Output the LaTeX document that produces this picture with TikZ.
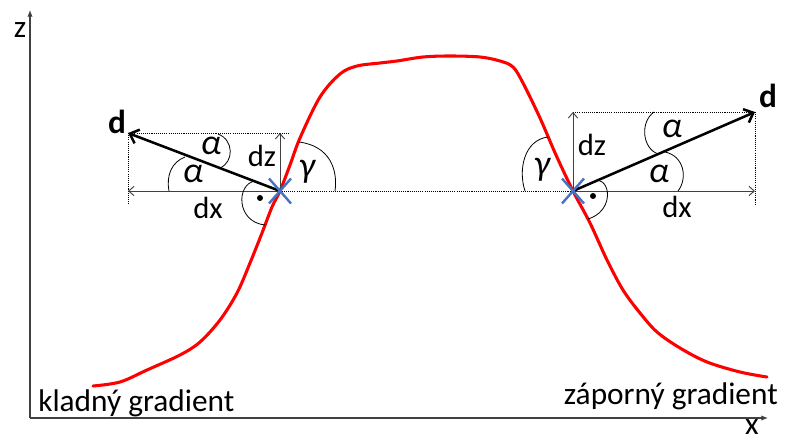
\documentclass[tikz,border=0pt]{standalone}
\usepackage{fontspec}
\setmainfont{Carlito}
\usetikzlibrary{arrows.meta}
\definecolor{xblue}{HTML}{4472C4}
\begin{document}
\begin{tikzpicture}[x=0.75pt,y=-0.75pt,
  axis/.style={draw=black!75, line width=0.8pt, -{Latex[length=5pt,width=4pt]}},
  vec/.style={draw=black, line width=1.9pt, -{Straight Barb[length=6pt,width=11pt]}},
  comp/.style={draw=black!75, line width=0.7pt, -{Straight Barb[length=4pt,width=7pt]}},
  guide/.style={draw=black, line width=0.7pt, dash pattern=on 0.8pt off 0.8pt},
  anglearc/.style={draw=black, line width=0.6pt},
  cross/.style={draw=xblue, line width=1.8pt},
  bigtext/.style={font=\fontsize{23.5}{27}\selectfont, inner sep=0pt},
  lbl/.style={font=\fontsize{23}{26}\selectfont, inner sep=0pt},
  vlbl/.style={font=\fontsize{25}{28}\selectfont\bfseries, inner sep=0pt},
  ang/.style={font=\fontsize{27}{29}\selectfont\itshape, inner sep=0pt},
  profile/.style={draw=red, line width=2.3pt, line cap=round, line join=round},
]
\useasboundingbox (0,0) rectangle (785,442);

% axes
\coordinate (O) at (30,418);
\coordinate (Zend) at (30,10);
\coordinate (Xend) at (768,418);
\draw[axis] (O) -- (Zend);
\draw[axis] (O) -- (Xend);
\node[bigtext, anchor=base] (zlab) at (20,38) {z};
\node[bigtext, anchor=base] (xlab) at (752,434.5) {x};

% key points
\coordinate (L) at (280,191);
\coordinate (R) at (573,191);
\coordinate (Ld) at (128,133);
\coordinate (Rd) at (755,112);
\coordinate (Lz) at (280,133);
\coordinate (Rz) at (573,112);
\coordinate (Lx) at (128,191);
\coordinate (Rx) at (755,191);
\coordinate (Ltop) at (290,133);
\coordinate (Lbot) at (128,204);
\coordinate (Rbot) at (755,204);

% guide lines
\draw[guide] (Lx) -- (Rx);
\draw[guide] (Ld) -- (Ltop);
\draw[guide] (Ld) -- (Lbot);
\draw[guide] (Rz) -- (Rd);
\draw[guide] (Rd) -- (Rbot);

% profile
\draw[profile] plot[smooth, tension=0.55] coordinates {
 (93,386) (120,382) (147,370) (180,355) (200,342) (220,320) (237,293)
 (250,263) (262,233) (272,207) (280,191) (290,165) (300,138) (320,97)
 (340,74) (357,66) (380,63) (397,61) (423,57) (450,56) (480,57) (500,61)
 (513,67) (523,83) (540,118) (556,155) (573,191) (590,223) (607,260)
 (623,290) (640,313) (657,332) (680,348) (707,362) (740,372) (767,377)};

% components
\draw[comp] (L) -- (Lz);
\draw[comp] (L) -- (Lx);
\draw[comp] (R) -- (Rz);
\draw[comp] (R) -- (Rx);

% vectors
\draw[vec] (L) -- (Ld);
\draw[vec] (R) -- (Rd);

% angle arcs left
\draw[anglearc] (218,134) .. controls (234,140) and (234,162) .. (220,168);
\draw[anglearc] (169,191) .. controls (166,175) and (172,162) .. (185,157);
\draw[anglearc] (255,181) .. controls (236,184) and (236,222) .. (265,225);
\draw[anglearc] (299,142) .. controls (330,146) and (338,170) .. (335,191);
% angle arcs right
\draw[anglearc] (654,112) .. controls (640,122) and (642,148) .. (658,154);
\draw[anglearc] (665,152) .. controls (684,156) and (688,178) .. (678,191);
\draw[anglearc] (598,180) .. controls (612,183) and (612,212) .. (588,219);
\draw[anglearc] (548,137) .. controls (524,140) and (518,170) .. (525,191);

% right-angle dots
\fill (260,198) circle (3);
\fill (593,196) circle (3);

% crosses
\draw[cross] (269,178.5) -- (291,203.5);
\draw[cross] (291,178.5) -- (269,203.5);
\draw[cross] (562,178.5) -- (584,203.5);
\draw[cross] (584,178.5) -- (562,203.5);

% labels left
\node[vlbl] (dL) at (117,122) {d};
\node[ang] (aL1) at (211,146) {α};
\node[ang] (aL2) at (193,174) {α};
\node[lbl] (dzL) at (262,156) {dz};
\node[lbl] (dxL) at (208,208) {dx};
\node[ang] (gL) at (307,172) {γ};
% labels right
\node[vlbl] (dR) at (768,96) {d};
\node[ang] (aR1) at (672,129) {α};
\node[ang] (aR2) at (659,174) {α};
\node[lbl] (dzR) at (592,145) {dz};
\node[lbl] (dxR) at (677,207) {dx};
\node[ang] (gR) at (542,170) {γ};

% captions
\node[bigtext, anchor=base west] (kl) at (38,411) {kladný gradient};
\node[bigtext, anchor=base east] (zp) at (778,404) {záporný gradient};
\end{tikzpicture}
\end{document}
